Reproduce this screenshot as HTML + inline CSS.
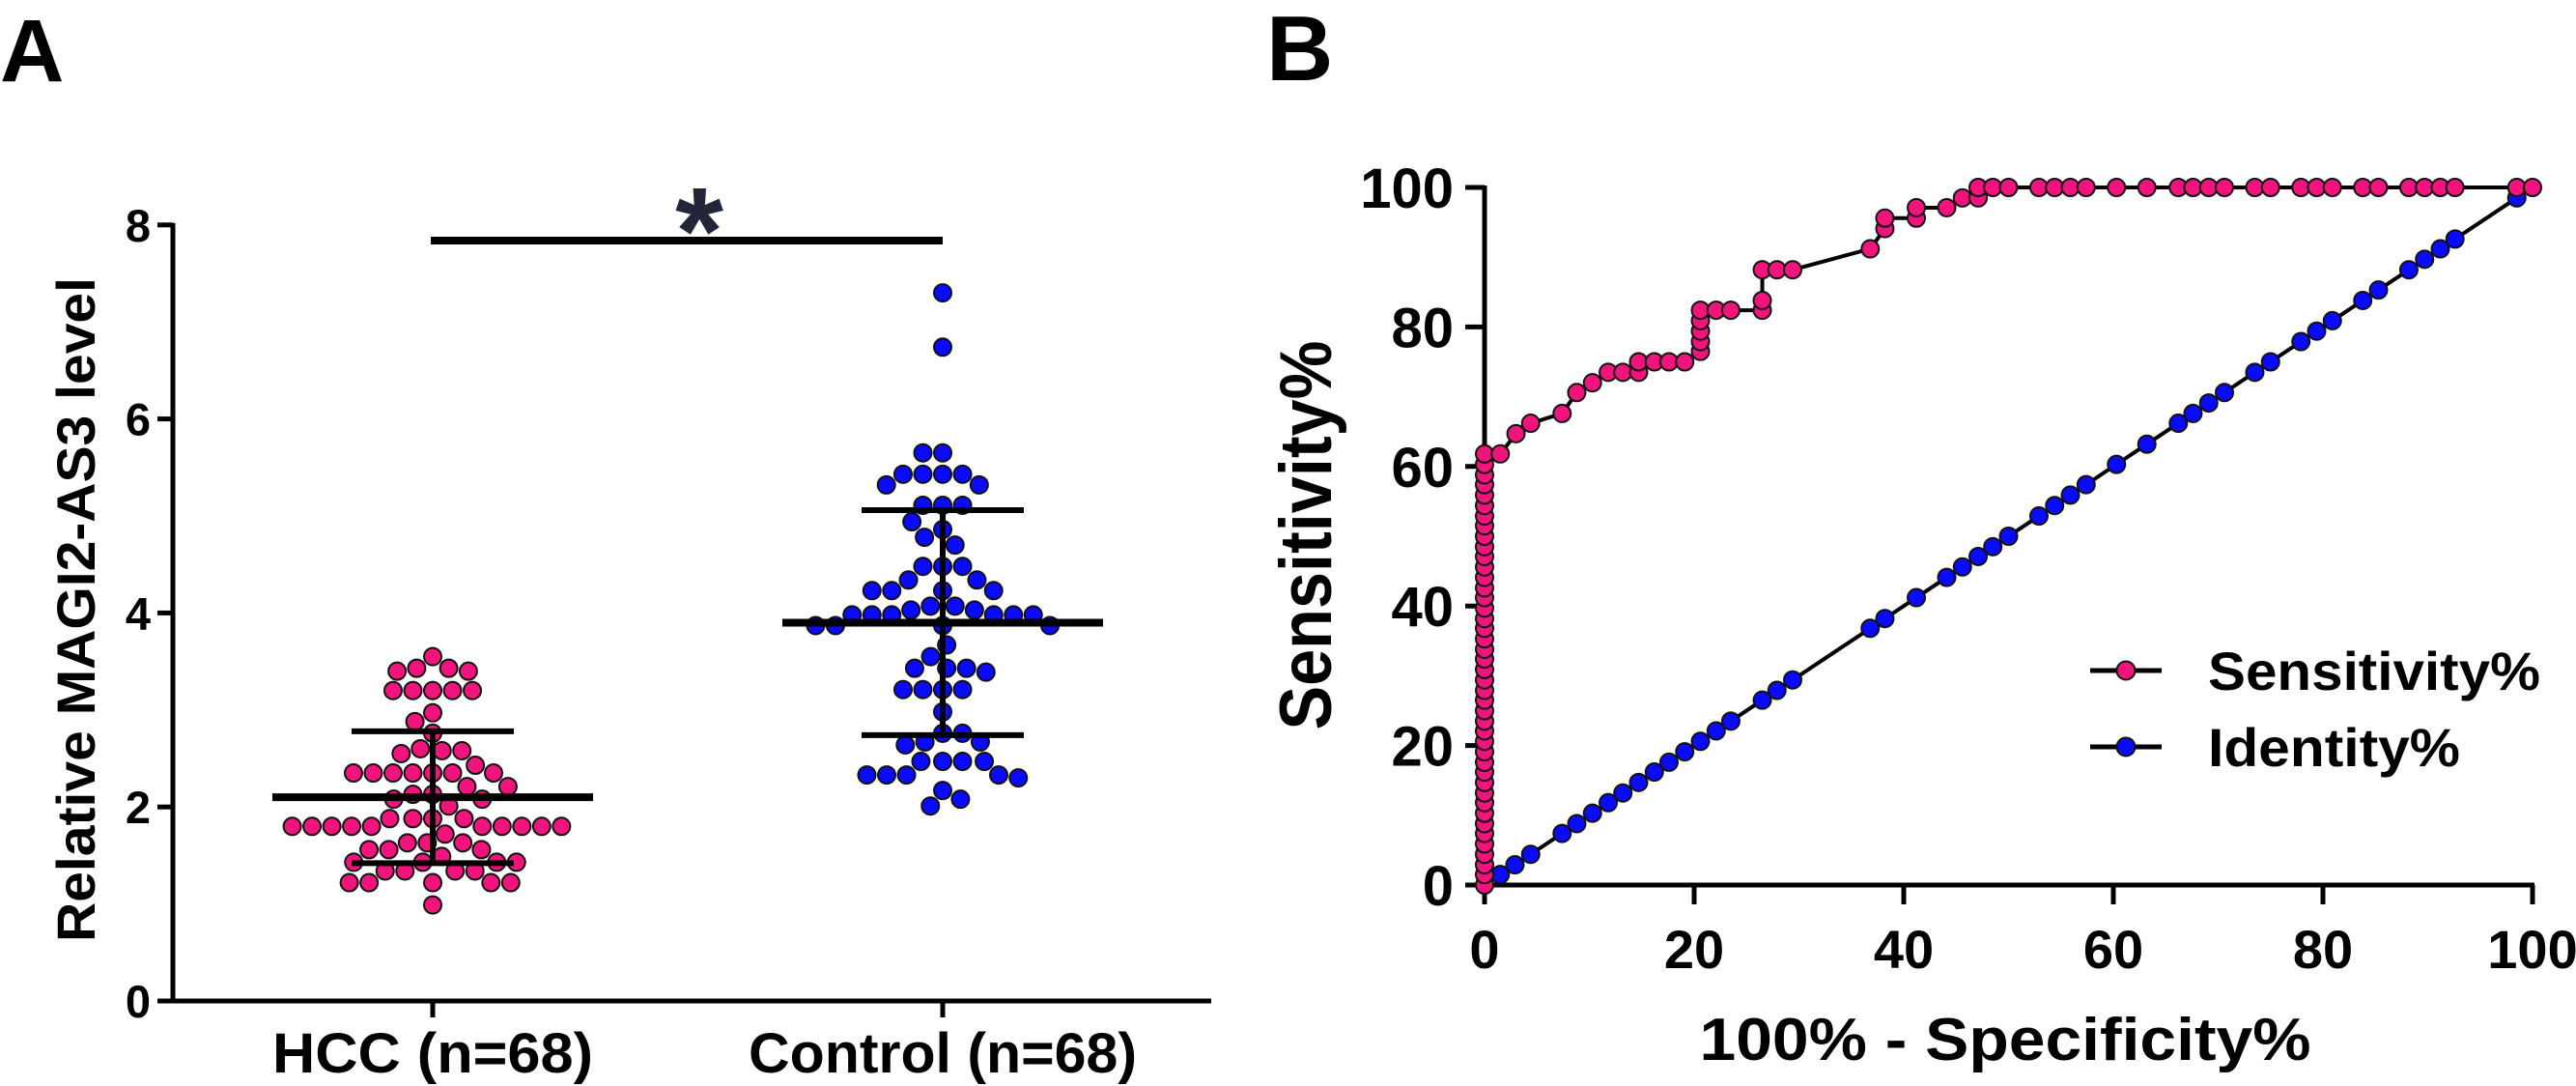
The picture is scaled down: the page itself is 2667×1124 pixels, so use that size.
<!DOCTYPE html>
<html><head><meta charset="utf-8"><style>
html,body{margin:0;padding:0;background:#fff;}
svg{display:block;font-family:"Liberation Sans",Arial,sans-serif;font-weight:bold;}
</style></head><body>
<svg id="fig" width="2667" height="1124" viewBox="0 0 2667 1124" xmlns="http://www.w3.org/2000/svg">
<text x="0" y="84" font-size="92">A</text>
<text x="1311" y="83" font-size="96">B</text>
<g id="pa"></g>
<g id="pb"></g>
</svg>
<script>
const NS="http://www.w3.org/2000/svg";
// Panel A data
const aTicks=[0,2,4,6,8];
const aCategories=["HCC (n=68)","Control (n=68)"];
const hccValues=[3.55,3.43,3.43,3.40,3.40,3.20,3.20,3.20,3.20,3.20,2.97,2.88,2.76,2.60,2.58,2.58,2.55,2.43,2.35,2.35,2.35,2.35,2.35,2.35,2.35,2.21,2.21,2.13,2.13,2.08,2.08,2.01,1.88,1.88,1.88,1.88,1.80,1.80,1.80,1.80,1.80,1.80,1.80,1.80,1.80,1.80,1.72,1.63,1.63,1.63,1.56,1.56,1.56,1.49,1.43,1.43,1.43,1.43,1.34,1.34,1.34,1.34,1.22,1.22,1.22,1.22,1.22,0.99];
const ctrlValues=[7.30,6.74,5.65,5.65,5.43,5.43,5.43,5.43,5.32,5.32,5.11,5.11,5.11,4.94,4.86,4.78,4.70,4.48,4.48,4.48,4.34,4.34,4.23,4.23,4.23,4.23,4.07,4.07,4.03,4.03,3.98,3.98,3.98,3.98,3.98,3.98,3.87,3.87,3.87,3.87,3.67,3.55,3.43,3.43,3.43,3.39,3.21,3.21,3.21,3.21,2.98,2.76,2.76,2.67,2.67,2.64,2.47,2.47,2.47,2.47,2.33,2.33,2.33,2.33,2.30,2.17,2.08,2.01];
const groupMeans=[2.10,3.90];
const groupSDs=[0.68,1.16];
// Panel B data
const bTicks=[0,20,40,60,80,100];
const sensX=[0,0,0,0,0,0,0,0,0,0,0,0,0,0,0,0,0,0,0,0,0,0,0,0,0,0,0,0,0,0,0,0,0,0,0,0,0,0,0,0,0,0,0,1.5,3,4.4,7.4,8.8,10.3,11.8,13.2,14.7,14.7,16.2,17.6,19.1,20.6,20.6,20.6,20.6,20.6,22.1,23.5,26.5,26.5,26.5,27.9,29.4,36.8,38.2,38.2,41.2,41.2,44.1,45.6,47.1,47.1,48.5,50,52.9,54.4,55.9,57.4,60.3,63.2,66.2,67.6,69.1,70.6,73.5,75,77.9,79.4,80.9,83.8,85.3,88.2,89.7,91.2,92.6,98.5,100];
const sensY=[0,1.5,2.9,4.4,5.9,7.4,8.8,10.3,11.8,13.2,14.7,16.2,17.6,19.1,20.6,22.1,23.5,25,26.5,27.9,29.4,30.9,32.4,33.8,35.3,36.8,38.2,39.7,41.2,42.6,44.1,45.6,47.1,48.5,50,51.5,52.9,54.4,55.9,57.4,58.8,60.3,61.8,61.8,64.7,66.2,67.6,70.6,72,73.5,73.5,73.5,75,75,75,75,76.5,77.9,79.4,80.9,82.4,82.4,82.4,82.4,83.8,88.2,88.2,88.2,91.2,94.1,95.6,95.6,97.1,97.1,98.5,98.5,100,100,100,100,100,100,100,100,100,100,100,100,100,100,100,100,100,100,100,100,100,100,100,100,100,100,100];
const idX=[1.5,2.9,4.4,7.4,8.8,10.3,11.8,13.2,14.7,16.2,17.6,19.1,20.6,22.1,23.5,26.5,27.9,29.4,36.8,38.2,41.2,44.1,45.6,47.1,48.5,50,52.9,54.4,55.9,57.4,60.3,63.2,66.2,67.6,69.1,70.6,73.5,75,77.9,79.4,80.9,83.8,85.3,88.2,89.7,91.2,92.6,98.5];
const idY=[1.5,2.9,4.4,7.4,8.8,10.3,11.8,13.2,14.7,16.2,17.6,19.1,20.6,22.1,23.5,26.5,27.9,29.4,36.8,38.2,41.2,44.1,45.6,47.1,48.5,50,52.9,54.4,55.9,57.4,60.3,63.2,66.2,67.6,69.1,70.6,73.5,75,77.9,79.4,80.9,83.8,85.3,88.2,89.7,91.2,92.6,98.5];
const legendLabels=["Sensitivity%","Identity%"];

function mk(parent,tag,attrs,txt){const e=document.createElementNS(NS,tag);for(const k in attrs)e.setAttribute(k,attrs[k]);if(txt!==undefined)e.textContent=txt;parent.appendChild(e);return e;}

// ---------- Panel A ----------
const pa=document.getElementById('pa');
const aY=v=>1036-v*100.4;
const aX=[448,976];
const PINK="#f0147c",BLUE="#0a0aff";
let e;
e=mk(pa,'line',{x1:179,y1:aY(8)-2,x2:179,y2:1038,stroke:'#000','stroke-width':5});

e=mk(pa,'line',{x1:177,y1:1036,x2:1254,y2:1036,stroke:'#000','stroke-width':5});

aTicks.forEach(t=>{
  e=mk(pa,'line',{x1:163,y1:aY(t),x2:179,y2:aY(t),stroke:'#000','stroke-width':5});
  
  e=mk(pa,'text',{x:156,y:aY(t)+17,'font-size':47,'text-anchor':'end'},String(t));
  
});
const catW=[332,402];
aCategories.forEach((c,i)=>{
  e=mk(pa,'line',{x1:aX[i],y1:1036,x2:aX[i],y2:1053,stroke:'#000','stroke-width':5});
  
  e=mk(pa,'text',{x:aX[i],y:1110,'font-size':58,'text-anchor':'middle',textLength:catW[i],lengthAdjust:'spacingAndGlyphs'},c);
  
});
e=mk(pa,'text',{x:0,y:0,'font-size':56,'text-anchor':'middle',transform:'translate(98,631) rotate(-90)',textLength:688,lengthAdjust:'spacingAndGlyphs'},'Relative MAGI2-AS3 level');

// significance
e=mk(pa,'line',{x1:446,y1:249,x2:976,y2:249,stroke:'#000','stroke-width':8});

e=mk(pa,'text',{x:724,y:283,'font-size':128,'text-anchor':'middle',fill:'#25253a'},'*');

// beeswarm dots
function swarm(vals,cx,color,name){
  const D=20.5,placed=[];
  const sorted=vals.slice().sort((a,b)=>b-a);
  sorted.forEach((v,idx)=>{
    const y=aY(v);
    const cands=[0];
    const near=placed.filter(p=>Math.abs(p.y-y)<D);
    near.forEach(p=>{const w=Math.sqrt(D*D-(p.y-y)*(p.y-y));cands.push(p.x+w+0.01,p.x-w-0.01);});
    const ok=cands.filter(x=>near.every(p=>(p.x-x)*(p.x-x)+(p.y-y)*(p.y-y)>=D*D-0.5));
    ok.sort((a,b)=>Math.abs(a)-Math.abs(b)||(idx%2?a-b:b-a));
    const x=ok[0];
    placed.push({x,y});
    const d=mk(pa,'circle',{cx:cx+x,cy:y,r:9,fill:color,stroke:'#111','stroke-width':2});
    
  });
}
swarm(hccValues,aX[0],PINK,'hcc-dot');
swarm(ctrlValues,aX[1],BLUE,'control-dot');
// mean & SD
groupMeans.forEach((m,i)=>{
  const sd=groupSDs[i],cx=aX[i];
  e=mk(pa,'line',{x1:cx,y1:aY(m+sd),x2:cx,y2:aY(m-sd),stroke:'#000','stroke-width':6});
  
  e=mk(pa,'line',{x1:cx-166,y1:aY(m),x2:cx+166,y2:aY(m),stroke:'#000','stroke-width':8});
  
  e=mk(pa,'line',{x1:cx-84,y1:aY(m+sd),x2:cx+84,y2:aY(m+sd),stroke:'#000','stroke-width':6});
  
  e=mk(pa,'line',{x1:cx-84,y1:aY(m-sd),x2:cx+84,y2:aY(m-sd),stroke:'#000','stroke-width':6});
  
});

// ---------- Panel B ----------
const pb=document.getElementById('pb');
const bX=p=>1537+p*10.85;
const bY=p=>916-p*7.22;
e=mk(pb,'line',{x1:1537,y1:bY(100)-2,x2:1537,y2:918,stroke:'#000','stroke-width':5});

e=mk(pb,'line',{x1:1518,y1:916,x2:2624,y2:916,stroke:'#000','stroke-width':5});

bTicks.forEach(t=>{
  e=mk(pb,'line',{x1:1517,y1:bY(t),x2:1537,y2:bY(t),stroke:'#000','stroke-width':5});
  
  e=mk(pb,'text',{x:1505,y:bY(t)+21,'font-size':58,'text-anchor':'end'},String(t));
  
  e=mk(pb,'line',{x1:bX(t),y1:916,x2:bX(t),y2:936,stroke:'#000','stroke-width':5});
  
  e=mk(pb,'text',{x:bX(t),y:1002,'font-size':56,'text-anchor':'middle'},String(t));
  
});
e=mk(pb,'text',{x:2076,y:1097,'font-size':62,'text-anchor':'middle',textLength:633,lengthAdjust:'spacingAndGlyphs'},'100% - Specificity%');

e=mk(pb,'text',{x:0,y:0,'font-size':76,'text-anchor':'middle',transform:'translate(1378,554) rotate(-90)',textLength:403,lengthAdjust:'spacingAndGlyphs'},'Sensitivity%');

function series(xs,ys,color,name){
  const pts=xs.map((x,i)=>bX(x)+','+bY(ys[i])).join(' ');
  let l=mk(pb,'polyline',{points:pts,fill:'none',stroke:'#000','stroke-width':4});
  
  xs.forEach((x,i)=>{
    const c=mk(pb,'circle',{cx:bX(x),cy:bY(ys[i]),r:9,fill:color,stroke:'#111','stroke-width':2});
    
  });
}
series(idX,idY,BLUE,'identity');
series(sensX,sensY,PINK,'sensitivity');
// legend
const legY=[694,773],legW=[344,261],legC=[PINK,BLUE];
legendLabels.forEach((lab,i)=>{
  const g=mk(pb,'g',{});
  
  mk(g,'line',{x1:2164,y1:legY[i],x2:2238,y2:legY[i],stroke:'#000','stroke-width':5});
  mk(g,'circle',{cx:2201,cy:legY[i],r:9.5,fill:legC[i],stroke:'#111','stroke-width':2});
  const t=mk(g,'text',{x:2286,y:legY[i]+20,'font-size':56,textLength:legW[i],lengthAdjust:'spacingAndGlyphs'},lab);
  
});
</script>
</body></html>
